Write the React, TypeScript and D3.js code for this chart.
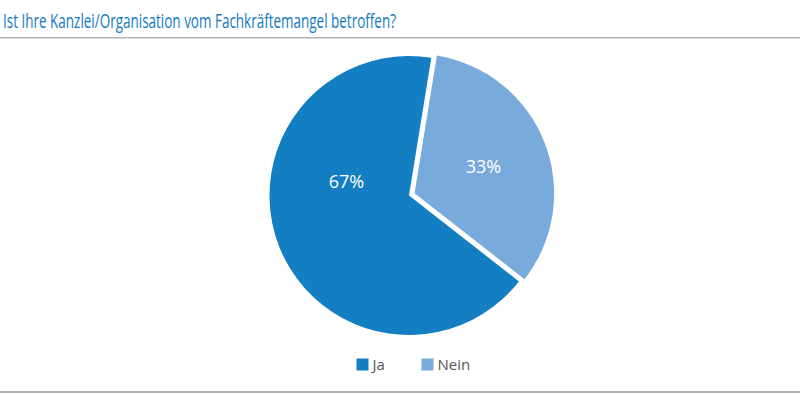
import { useEffect, useRef } from "react";
import * as d3 from "d3";

const TITLE = "Ist Ihre Kanzlei/Organisation vom Fachkräftemangel betroffen?";
const LABELS = ["Ja", "Nein"];
const VALUES = [67, 33];
const COLORS = ["#137ec2", "#78aadb"];

type Slice = { label: string; value: number; color: string };

const WIDTH = 800;
const HEIGHT = 394;

export default function App() {
  const svgRef = useRef<SVGSVGElement | null>(null);

  useEffect(() => {
    const svgElement = svgRef.current;
    if (!svgElement) return;

    const slices: Slice[] = LABELS.map((label, i) => ({ label, value: VALUES[i], color: COLORS[i] }));

    const svg = d3.select(svgElement);
    svg.selectAll("*").remove();

    // title + rules
    svg
      .append("text")
      .attr("x", 3)
      .attr("y", 27.5)
      .attr("font-family", "'Open Sans', sans-serif")
      .attr("font-size", 20)
      .attr("fill", "#1479bf")
      .attr("textLength", 393)
      .attr("lengthAdjust", "spacingAndGlyphs")
      .text(TITLE);

    svg.append("rect").attr("x", 0).attr("y", 37).attr("width", WIDTH).attr("height", 1.5).attr("fill", "#b4b4b4");
    svg.append("rect").attr("x", 0).attr("y", 391).attr("width", WIDTH).attr("height", 2).attr("fill", "#b4b4b4");

    // pie
    const cx = 409;
    const cy = 195.5;
    const radius = 139.5;
    const explode = 6;
    const start = (128 * Math.PI) / 180;

    const pie = d3
      .pie<Slice>()
      .value((d) => d.value)
      .sort(null)
      .startAngle(start)
      .endAngle(start + 2 * Math.PI);

    const arc = d3.arc<d3.PieArcDatum<Slice>>().innerRadius(0).outerRadius(radius);
    const arcs = pie(slices);

    const chart = svg.append("g").attr("transform", `translate(${cx}, ${cy})`);

    const offset = (d: d3.PieArcDatum<Slice>) => {
      const mid = (d.startAngle + d.endAngle) / 2;
      const k = d.index === 0 ? 0 : explode;
      return [Math.sin(mid) * k, -Math.cos(mid) * k];
    };

    const groups = chart
      .selectAll<SVGGElement, d3.PieArcDatum<Slice>>("g.slice")
      .data(arcs)
      .join("g")
      .attr("class", "slice")
      .attr("transform", (d) => {
        const [dx, dy] = offset(d);
        return `translate(${dx}, ${dy})`;
      });

    groups.append("path").attr("d", arc).attr("fill", (d) => d.data.color);

    // labels sit mid-slice; the big slice's label is nudged up like the original
    const majorShift = (34 * Math.PI) / 180;
    groups
      .append("text")
      .attr("transform", (d) => {
        const span = d.endAngle - d.startAngle;
        const a = (d.startAngle + d.endAngle) / 2 + (span > Math.PI ? majorShift : 0);
        const r = radius * (span > Math.PI ? 0.46 : 0.53);
        return `translate(${Math.sin(a) * r}, ${-Math.cos(a) * r})`;
      })
      .attr("text-anchor", "middle")
      .attr("dy", "0.36em")
      .attr("font-family", "'Open Sans', sans-serif")
      .attr("font-size", 18)
      .attr("fill", "#ffffff")
      .text((d) => `${d.data.value}%`);

    // legend
    const legend = svg.append("g").attr("transform", "translate(356.5, 358.5)");
    const items = legend
      .selectAll<SVGGElement, Slice>("g.item")
      .data(slices)
      .join("g")
      .attr("class", "item")
      .attr("transform", (_, i) => `translate(${i * 65}, 0)`);

    items.append("rect").attr("width", 12).attr("height", 12).attr("fill", (d) => d.color);
    items
      .append("text")
      .attr("x", 16)
      .attr("y", 11.5)
      .attr("font-family", "'Open Sans', sans-serif")
      .attr("font-size", 15)
      .attr("fill", "#555555")
      .text((d) => d.label);
  }, []);

  return (
    <svg
      ref={svgRef}
      width={WIDTH}
      height={HEIGHT}
      style={{ position: "absolute", left: 0, top: 0, background: "#ffffff" }}
      role="img"
      aria-label="Fachkräftemangel pie chart"
    />
  );
}
